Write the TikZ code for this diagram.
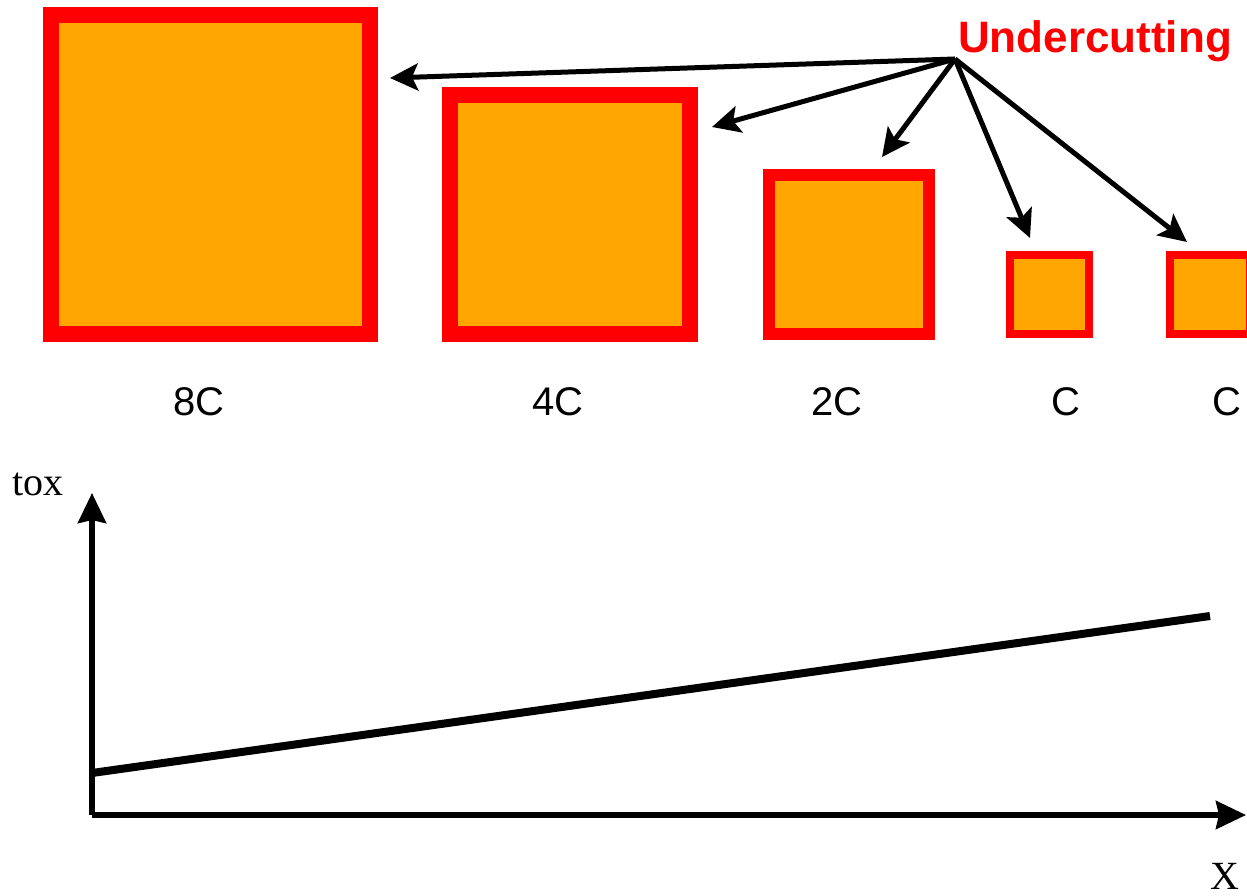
\documentclass[tikz,border=0pt]{standalone}
\usepackage{fontspec}
\setmainfont{Liberation Sans}
\newfontfamily\timesfont{Liberation Serif}
\usetikzlibrary{arrows.meta}
\definecolor{fillor}{RGB}{255,166,0}
\definecolor{edgered}{RGB}{255,0,0}
\begin{document}
\begin{tikzpicture}[x=1pt,y=-1pt,
  sq/.style={draw=edgered, fill=fillor, inner sep=0pt, outer sep=0pt},
  ptr/.style={line width=5pt, -{Stealth[length=28pt,width=27pt,inset=6pt]}},
  axis/.style={line width=5.5pt, -{Stealth[length=30pt,width=28pt,inset=3pt]}},
  lbl/.style={font=\fontsize{40}{48}\selectfont, anchor=base, inner sep=0pt},
  axlbl/.style={font=\timesfont\fontsize{40}{48}\selectfont, anchor=base west, inner sep=0pt}]
\useasboundingbox (0,0) rectangle (1247,896);
% squares
\node[sq, line width=16pt, minimum width=319pt, minimum height=319pt] (s8) at (210.5,174.5) {};
\node[sq, line width=16pt, minimum width=240pt, minimum height=239pt] (s4) at (570,214.5) {};
\node[sq, line width=12pt, minimum width=160pt, minimum height=159pt] (s2) at (849,254.5) {};
\node[sq, line width=8pt, minimum width=79pt, minimum height=79pt] (s1a) at (1049.5,294.5) {};
\node[sq, line width=8pt, minimum width=80pt, minimum height=79pt] (s1b) at (1210,294.5) {};
% labels
\node[lbl] (l8) at (199,415) {8C};
\node[lbl] (l4) at (558,415) {4C};
\node[lbl] (l2) at (837,415) {2C};
\node[lbl] (l1a) at (1066,415) {C};
\node[lbl] (l1b) at (1227,415) {C};
% undercutting
\node[font=\bfseries\fontsize{44}{52}\selectfont, text=edgered, anchor=base west, inner sep=0pt] (uc) at (958,53) {Undercutting};
\coordinate (src) at (955,59);
\coordinate (t8) at (390,78);
\coordinate (t4) at (712,127);
\coordinate (t2) at (882,157);
\coordinate (t1a) at (1030,238);
\coordinate (t1b) at (1187,242);
\draw[ptr] (src) -- (t8);
\draw[ptr] (src) -- (t4);
\draw[ptr] (src) -- (t2);
\draw[ptr] (src) -- (t1a);
\draw[ptr] (src) -- (t1b);
% axes
\coordinate (o) at (92,815);
\coordinate (ytip) at (92,493);
\coordinate (xtip) at (1246,815);
\draw[axis] (o) -- (ytip);
\draw[axis] (o) -- (xtip);
\coordinate (d0) at (92,773);
\coordinate (d1) at (1210,616);
\draw[line width=8pt] (d0) -- (d1);
\node[axlbl] (tox) at (12,495) {tox};
\node[axlbl] (xl) at (1210,889) {X};
\end{tikzpicture}
\end{document}
